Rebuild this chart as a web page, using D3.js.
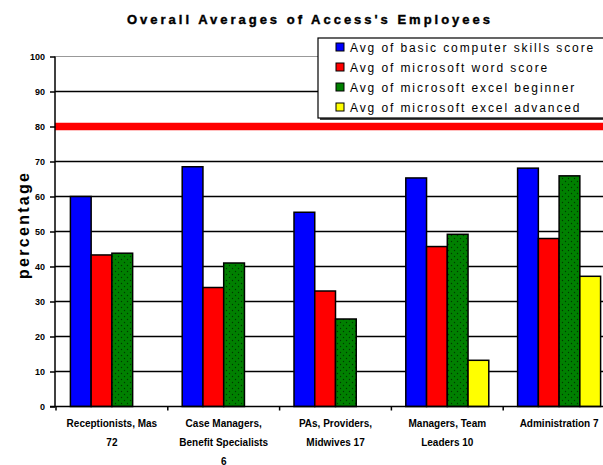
<!DOCTYPE html>
<html>
<head>
<meta charset="utf-8">
<script src="https://cdn.jsdelivr.net/npm/d3@7"></script>
<style>
  body { margin: 0; background: #fff; }
  svg { display: block; font-family: "Liberation Sans", Arial, sans-serif; }
</style>
</head>
<body>
<svg id="chart" width="603" height="465"></svg>
<script>
// chart data
var categories = ["Receptionists, Mas\n72", "Case Managers,\nBenefit Specialists\n6", "PAs, Providers,\nMidwives 17", "Managers, Team\nLeaders 10", "Administration 7"];
var seriesNames = ["Avg of basic computer skills score", "Avg of microsoft word score", "Avg of microsoft excel beginner", "Avg of microsoft excel advanced"];
var basicScores = [60, 68.5, 55.5, 65.3, 68.1];
var wordScores = [43.3, 34, 33, 45.7, 48];
var excelBeginner = [43.8, 41, 25, 49.2, 65.9];
var excelAdvanced = [null, null, null, 13.2, 37.2];
var targetLine = 80;
var yTicks = [0, 10, 20, 30, 40, 50, 60, 70, 80, 90, 100];

var colors = ["#0000ff", "#ff0000", "#008000", "#ffff00"];

var svg = d3.select("#chart");
var x0 = d3.scaleBand().domain(d3.range(categories.length)).range([56, 615]).padding(0);
var x1 = d3.scaleBand().domain(d3.range(seriesNames.length))
    .range([14.4, x0.bandwidth() - 14.4]).padding(0);
var y = d3.scaleLinear().domain([0, 100]).range([406.5, 56.5]);

// dotted fill for the green bars
var defs = svg.append("defs");
var pat = defs.append("pattern").attr("id", "dots")
    .attr("patternUnits", "userSpaceOnUse").attr("width", 6).attr("height", 6);
pat.append("rect").attr("width", 6).attr("height", 6).attr("fill", colors[2]);
pat.append("circle").attr("cx", 1.5).attr("cy", 1.5).attr("r", 0.7).attr("fill", "#003800");
pat.append("circle").attr("cx", 4.5).attr("cy", 4.5).attr("r", 0.7).attr("fill", "#003800");

// title
svg.append("text")
    .attr("x", 127).attr("y", 24)
    .attr("textLength", 363).attr("lengthAdjust", "spacing")
    .attr("font-size", 13).attr("font-weight", "bold")
    .attr("stroke", "#000").attr("stroke-width", 0.4)
    .text("Overall Averages of Access's Employees");

// gridlines
svg.append("g").selectAll("line")
    .data(yTicks.slice(1))
    .enter().append("line")
    .attr("x1", 55).attr("x2", 603)
    .attr("y1", d => y(d)).attr("y2", d => y(d))
    .attr("stroke", d => d == 100 ? "#999" : "#000")
    .attr("stroke-width", d => d == 100 ? 1 : 1.5);

// target line
svg.append("line")
    .attr("x1", 55).attr("x2", 603)
    .attr("y1", y(targetLine)).attr("y2", y(targetLine))
    .attr("stroke", "#ff0000").attr("stroke-width", 7.5);

// bars
var series = [basicScores, wordScores, excelBeginner, excelAdvanced];
var barData = [];
categories.forEach(function(c, i){
  series.forEach(function(s, j){
    if(s[i] != null) barData.push({cat: i, ser: j, v: s[i]});
  });
});
svg.append("g").selectAll("rect")
    .data(barData)
    .enter().append("rect")
    .attr("x", d => x0(d.cat) + x1(d.ser))
    .attr("y", d => y(d.v))
    .attr("width", x1.bandwidth())
    .attr("height", d => y(0) - y(d.v))
    .attr("fill", d => d.ser == 2 ? "url(#dots)" : colors[d.ser])
    .attr("stroke", "#000").attr("stroke-width", 1.5);

// y axis
var yAxis = svg.append("g").attr("transform", "translate(55,0)")
    .call(d3.axisLeft(y).tickValues(yTicks).tickSize(5).tickPadding(5));
yAxis.select(".domain").attr("stroke-width", 1.5).attr("d", "M0," + y(0) + "V" + y(100));
yAxis.selectAll(".tick line").attr("stroke-width", 1.5);
yAxis.selectAll("text").attr("font-size", 9).attr("font-weight", "bold")
    .attr("font-family", "Liberation Sans, Arial, sans-serif");

// x axis
var xAxis = svg.append("g").attr("transform", "translate(0," + y(0) + ")");
xAxis.append("line").attr("x1", 50).attr("x2", 603).attr("stroke", "#000").attr("stroke-width", 1.5);
xAxis.selectAll(".xt")
    .data(d3.range(categories.length + 1))
    .enter().append("line")
    .attr("x1", d => x0.range()[0] + d * x0.bandwidth())
    .attr("x2", d => x0.range()[0] + d * x0.bandwidth())
    .attr("y1", 0).attr("y2", 4)
    .attr("stroke", "#000").attr("stroke-width", 1.5);

var labels = xAxis.selectAll(".xl")
    .data(categories)
    .enter().append("text")
    .attr("text-anchor", "middle")
    .attr("font-size", 10).attr("font-weight", "bold")
    .attr("transform", (d, i) => "translate(" + (x0(i) + x0.bandwidth() / 2) + ",20)");
labels.each(function(d){
  var t = d3.select(this);
  d.split("\n").forEach(function(line, k){
    t.append("tspan").attr("x", 0).attr("y", k * 19).text(line);
  });
});

// y label
svg.append("text")
    .attr("transform", "translate(29,226) rotate(-90)")
    .attr("text-anchor", "middle")
    .attr("textLength", 106).attr("lengthAdjust", "spacing")
    .attr("font-size", 16).attr("font-weight", "bold")
    .text("percentage");

// legend
var legend = svg.append("g");
legend.append("rect")
    .attr("x", 320).attr("y", 40).attr("width", 290).attr("height", 80)
    .attr("fill", "#444");
legend.append("rect")
    .attr("x", 318).attr("y", 38).attr("width", 290).attr("height", 80)
    .attr("fill", "#fff").attr("stroke", "#000").attr("stroke-width", 1.2);
var items = legend.selectAll(".item")
    .data(seriesNames)
    .enter().append("g")
    .attr("transform", (d, i) => "translate(336," + (47 + i * 20) + ")");
items.append("rect")
    .attr("x", 0).attr("y", -4).attr("width", 8).attr("height", 8)
    .attr("fill", (d, i) => colors[i]).attr("stroke", "#000").attr("stroke-width", 1);
items.append("text")
    .attr("x", 14).attr("y", 4.5)
    .attr("font-size", 12).attr("letter-spacing", 1.9)
    .text(d => d);
</script>
</body>
</html>
